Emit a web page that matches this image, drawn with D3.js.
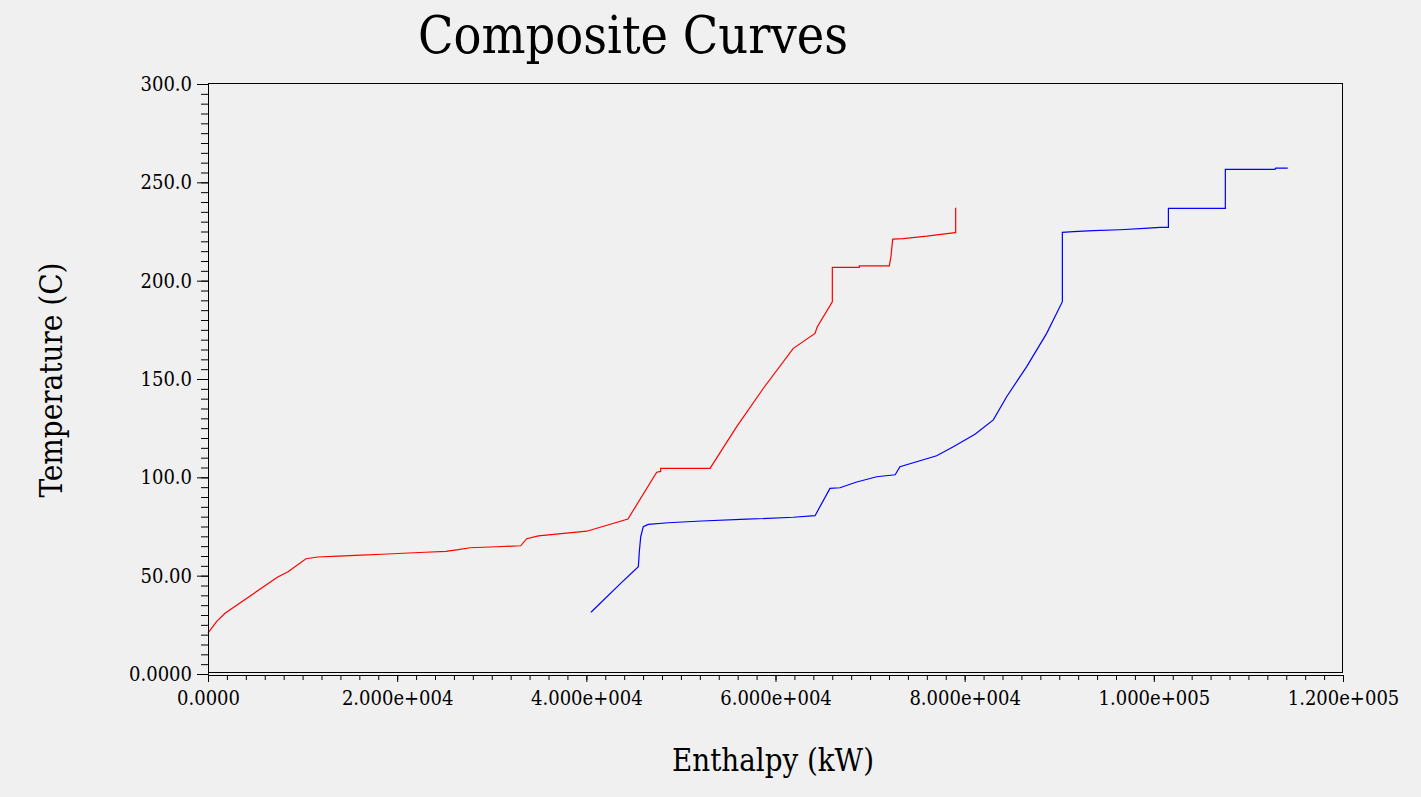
<!DOCTYPE html>
<html>
<head>
<meta charset="utf-8">
<script src="https://cdn.jsdelivr.net/npm/d3@7"></script>
<style>
  html, body { margin: 0; padding: 0; background: #f0f0f0; }
  #wrapper { width: 1421px; height: 797px; }
  text { font-family: "DejaVu Serif Condensed", "DejaVu Serif", serif; fill: #000; }
</style>
</head>
<body>
<div id="wrapper"></div>
<script>
// Hot composite curve: [enthalpy kW, temperature C]
const hotCurve = [
  [0, 20.8], [900, 26.6], [1800, 30.9], [7330, 49.2], [8460, 52.0],
  [10360, 58.6], [11600, 59.5], [13780, 59.9], [16180, 60.4], [18400, 60.9],
  [20650, 61.4], [22980, 61.9], [25160, 62.4], [26460, 63.2], [27700, 64.2],
  [30520, 64.7], [33060, 65.2], [33700, 68.8], [34930, 70.2], [40040, 72.6],
  [44400, 78.8], [47440, 102.6], [47860, 103.0], [47860, 104.6], [53080, 104.6],
  [55900, 125.8], [58720, 145.3], [61880, 165.6], [64180, 173.2], [64420, 176.6],
  [66010, 189.3], [66010, 206.8], [68860, 206.8], [68860, 207.5], [72030, 207.5],
  [72200, 212.0], [72390, 221.1], [73500, 221.4], [76000, 222.6], [78980, 224.4],
  [79050, 224.4], [79050, 237.1]
];

// Cold composite curve
const coldCurve = [
  [40490, 31.4], [43740, 46.6], [45500, 54.6], [45600, 62.0], [45750, 69.8],
  [46020, 74.9], [46550, 76.1], [48670, 76.9], [52200, 77.8], [56960, 78.7],
  [61880, 79.7], [64180, 80.5], [65760, 94.4], [66820, 94.7], [68500, 97.5],
  [70700, 100.3], [72650, 101.3], [72810, 102.6], [73160, 105.4], [77040, 111.0],
  [78800, 115.6], [81090, 121.9], [83030, 129.2], [84440, 141.0], [86560, 156.3],
  [88670, 173.2], [90330, 189.3], [90330, 224.6], [91500, 224.9], [93610, 225.4],
  [96430, 225.9], [99000, 226.6], [100660, 227.1], [101540, 227.1], [101540, 236.8],
  [107560, 236.8], [107560, 256.6], [112810, 256.6], [112880, 257.2], [114160, 257.2]
];

const xTickValues = [0, 20000, 40000, 60000, 80000, 100000, 120000];
const xTickLabels = ["0.0000", "2.000e+004", "4.000e+004", "6.000e+004", "8.000e+004", "1.000e+005", "1.200e+005"];
const yTickValues = [0, 50, 100, 150, 200, 250, 300];
const yTickLabels = ["0.0000", "50.00", "100.0", "150.0", "200.0", "250.0", "300.0"];

const chartTitle = "Composite Curves";
const xTitle = "Enthalpy (kW)";
const yTitle = "Temperature (C)";

function drawChart() {
  const xAccessor = (d) => d[0];
  const yAccessor = (d) => d[1];

  const dimensions = {
    width: 1421,
    height: 797,
    margins: { top: 84, right: 78, bottom: 123, left: 208 },
  };
  dimensions.boundedWidth =
    dimensions.width - dimensions.margins.left - dimensions.margins.right;
  dimensions.boundedHeight =
    dimensions.height - dimensions.margins.top - dimensions.margins.bottom;

  const wrapper = d3
    .select("#wrapper")
    .append("svg")
    .attr("width", dimensions.width)
    .attr("height", dimensions.height);

  wrapper.append("rect")
    .attr("width", dimensions.width)
    .attr("height", dimensions.height)
    .attr("fill", "#f0f0f0");

  const bounds = wrapper
    .append("g")
    .attr("transform", `translate(${dimensions.margins.left}, ${dimensions.margins.top})`);

  // Scales
  const xScale = d3.scaleLinear()
    .domain([0, 120000])
    .range([0, dimensions.boundedWidth]);

  const yScale = d3.scaleLinear()
    .domain([0, 300])
    .range([dimensions.boundedHeight, 0]);

  // Plot frame
  bounds.append("rect")
    .attr("x", 0.5)
    .attr("y", -0.5)
    .attr("width", dimensions.boundedWidth - 1)
    .attr("height", dimensions.boundedHeight - 1)
    .attr("fill", "none")
    .attr("stroke", "#000")
    .attr("stroke-width", 1);

  // Curves
  const lineGenerator = d3.line()
    .x((d) => xScale(xAccessor(d)))
    .y((d) => yScale(yAccessor(d)));

  bounds.append("path")
    .datum(hotCurve)
    .attr("d", lineGenerator)
    .attr("fill", "none")
    .attr("stroke", "#ff0000")
    .attr("stroke-width", 1.2);

  bounds.append("path")
    .datum(coldCurve)
    .attr("d", lineGenerator)
    .attr("fill", "none")
    .attr("stroke", "#0000ff")
    .attr("stroke-width", 1.2);

  // X axis, sitting just below the frame
  const xAxisG = bounds.append("g")
    .attr("transform", `translate(0, ${dimensions.boundedHeight + 1})`);

  xAxisG.append("g")
    .call(d3.axisBottom(xScale)
      .tickValues(d3.range(0, 120001, 2000))
      .tickSize(5)
      .tickSizeOuter(0)
      .tickFormat(""));

  xAxisG.append("g")
    .call(d3.axisBottom(xScale)
      .tickValues(xTickValues)
      .tickSize(7)
      .tickSizeOuter(0)
      .tickPadding(9)
      .tickFormat((d, i) => xTickLabels[i]));

  // Y axis
  const yAxisG = bounds.append("g");

  yAxisG.append("g")
    .call(d3.axisLeft(yScale)
      .tickValues(d3.range(0, 301, 5))
      .tickSize(7)
      .tickSizeOuter(0)
      .tickFormat(""));

  yAxisG.append("g")
    .call(d3.axisLeft(yScale)
      .tickValues(yTickValues)
      .tickSize(11)
      .tickSizeOuter(0)
      .tickPadding(5)
      .tickFormat((d, i) => yTickLabels[i]));

  wrapper.selectAll(".tick text")
    .style("font-family", '"DejaVu Serif Condensed", "DejaVu Serif", serif')
    .style("font-size", "20px")
    .attr("fill", "#000");
  wrapper.selectAll(".domain, .tick line").attr("stroke", "#000");

  // Titles
  wrapper.append("text")
    .attr("x", 633)
    .attr("y", 53)
    .attr("text-anchor", "middle")
    .attr("textLength", 430)
    .attr("lengthAdjust", "spacingAndGlyphs")
    .style("font-size", "53px")
    .text(chartTitle);

  wrapper.append("text")
    .attr("x", 773)
    .attr("y", 771)
    .attr("text-anchor", "middle")
    .attr("textLength", 202)
    .attr("lengthAdjust", "spacingAndGlyphs")
    .style("font-size", "31px")
    .text(xTitle);

  wrapper.append("text")
    .attr("transform", "translate(62, 380) rotate(-90)")
    .attr("text-anchor", "middle")
    .attr("textLength", 235)
    .attr("lengthAdjust", "spacingAndGlyphs")
    .style("font-size", "31px")
    .text(yTitle);
}

drawChart();
</script>
</body>
</html>
